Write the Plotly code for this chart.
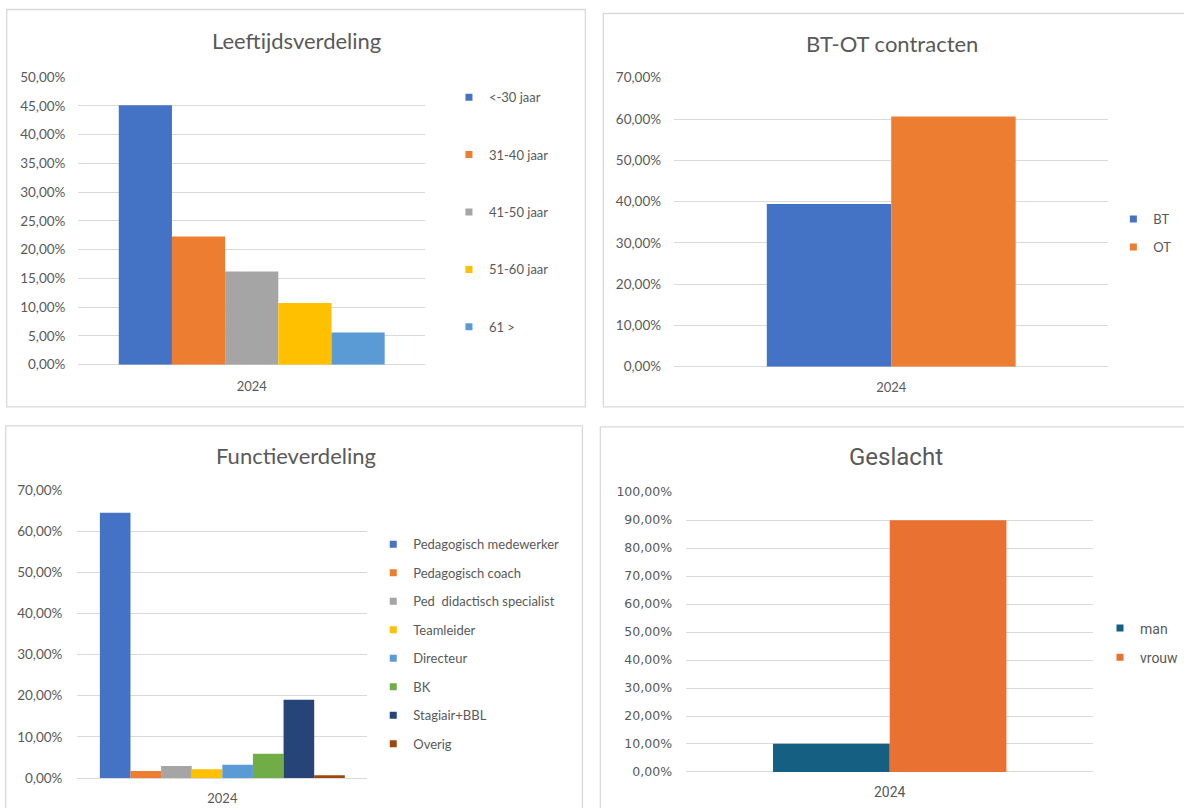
import plotly.graph_objects as go

W, H = 1184, 808

# ---------------- data ----------------
year = ["2024"]

age_labels = ["<-30 jaar", "31-40 jaar", "41-50 jaar", "51-60 jaar", "61 >"]
age_values = [45.1, 22.3, 16.2, 10.7, 5.6]
age_colors = ["#4472C4", "#ED7D31", "#A5A5A5", "#FFC000", "#5B9BD5"]

contract_labels = ["BT", "OT"]
contract_values = [39.4, 60.6]
contract_colors = ["#4472C4", "#ED7D31"]

func_labels = ["Pedagogisch medewerker", "Pedagogisch coach", "Ped  didactisch specialist",
               "Teamleider", "Directeur", "BK", "Stagiair+BBL", "Overig"]
func_values = [64.5, 1.7, 2.9, 2.1, 3.2, 5.9, 19.0, 0.7]
func_colors = ["#4472C4", "#ED7D31", "#A5A5A5", "#FFC000", "#5B9BD5", "#70AD47", "#264478", "#9E480E"]

gender_labels = ["man", "vrouw"]
gender_values = [10.1, 89.9]
gender_colors = ["#156082", "#E97132"]

titles = ["Leeftijdsverdeling", "BT-OT contracten", "Functieverdeling", "Geslacht"]

# ---------------- helpers ----------------
# page pixel -> paper fraction (with a small correction for how the page is photographed)
SX, CX = 0.981, 1.3
SY, CY = 0.977, 9.5


def px(x):
    return ((x - CX) / SX) / W


def py(y):
    return 1 - ((y - CY) / SY) / H


CAL = "Lato, 'Open Sans', sans-serif"
APT = "Roboto, 'Open Sans', sans-serif"
WIDE = "'DejaVu Sans', Verdana, sans-serif"
GREY = "#595959"
GRID = "#D9D9D9"

fig = go.Figure()


def add_chart(labels, values, colors, idx, group_frac, legend_name):
    xa = "x" if idx == 1 else f"x{idx}"
    ya = "y" if idx == 1 else f"y{idx}"
    n = len(labels)
    w = group_frac / n
    for i, (lab, val, col) in enumerate(zip(labels, values, colors)):
        fig.add_trace(go.Bar(
            x=year, y=[val], name=lab, marker=dict(color=col, line=dict(width=0)),
            width=w, offset=-group_frac / 2 + i * w,
            xaxis=xa, yaxis=ya, showlegend=False,
            hovertemplate=lab + ": %{y:.2f}%<extra></extra>",
        ))
    for i, (lab, col) in enumerate(zip(labels, colors)):
        fig.add_trace(go.Scatter(
            x=[None], y=[None], mode="markers", name=lab,
            marker=dict(symbol="square", size=7, color=col),
            xaxis=xa, yaxis=ya, legend=legend_name, legendgroup=f"{legend_name}_{i}",
            showlegend=True, hoverinfo="skip",
        ))


add_chart(age_labels, age_values, age_colors, 1, 0.767, "legend")
add_chart(contract_labels, contract_values, contract_colors, 2, 0.573, "legend2")
add_chart(func_labels, func_values, func_colors, 3, 0.845, "legend3")
add_chart(gender_labels, gender_values, gender_colors, 4, 0.573, "legend4")


def xaxis(x0, x1, y_anchor, font, size, standoff):
    return dict(domain=[px(x0), min(px(x1), 1)], anchor=y_anchor, type="category",
                range=[-0.5, 0.5], showgrid=False, zeroline=False, showline=False,
                ticks="", ticklabelstandoff=standoff, fixedrange=True,
                tickfont=dict(family=font, size=size, color=GREY))


def yaxis(y0, y1, x_anchor, rmax, dtick, font, size, standoff):
    return dict(domain=[py(y1), py(y0)], anchor=x_anchor, range=[0, rmax], dtick=dtick,
                tickformat=".2f", ticksuffix="%", showgrid=True, gridcolor=GRID, gridwidth=1,
                zeroline=True, zerolinecolor=GRID, zerolinewidth=1, showline=False,
                ticks="", ticklabelstandoff=standoff, fixedrange=True,
                tickfont=dict(family=font, size=size, color=GREY))


def legend(x, y, gap, font, size):
    return dict(x=px(x), y=py(y), xanchor="left", yanchor="top", orientation="v",
                bgcolor="rgba(0,0,0,0)", borderwidth=0, tracegroupgap=gap,
                itemclick=False, itemdoubleclick=False, itemwidth=30,
                font=dict(family=font, size=size, color=GREY))


shapes = []
for (x0, y0, x1, y1) in [(8, 11, 589, 407), (607, 15, 1230, 407), (7, 426, 586, 840), (604, 427, 1230, 840)]:
    shapes.append(dict(type="rect", xref="paper", yref="paper", x0=px(x0), x1=px(x1),
                       y0=py(y1), y1=py(y0), line=dict(color=GRID, width=1.3),
                       fillcolor="rgba(0,0,0,0)", layer="below"))

annotations = []
for t, (cx, cy), font, size in zip(titles, [(299, 42), (897, 45), (298, 456), (901, 457)],
                                   [CAL, CAL, CAL, APT], [22, 22, 22, 24]):
    annotations.append(dict(text=t, x=px(cx), y=py(cy), xref="paper", yref="paper",
                            xanchor="center", yanchor="middle", showarrow=False,
                            font=dict(family=font, size=size, color=GREY)))

fig.update_layout(
    width=W, height=H, autosize=False,
    margin=dict(l=0, r=0, t=0, b=0),
    paper_bgcolor="white", plot_bgcolor="white",
    separators=",.",
    barmode="overlay",
    showlegend=True,
    shapes=shapes, annotations=annotations,
    xaxis=xaxis(80, 428, "y", CAL, 13, 12),
    yaxis=yaxis(78.3, 365, "x", 50, 5, CAL, 13.5, 12),
    xaxis2=xaxis(678, 1114, "y2", CAL, 13, 11),
    yaxis2=yaxis(79, 367, "x2", 70, 10, CAL, 13.5, 12),
    xaxis3=xaxis(79, 370, "y3", CAL, 13, 11),
    yaxis3=yaxis(490, 777, "x3", 70, 10, CAL, 13.5, 14),
    xaxis4=xaxis(690, 1099, "y4", APT, 14, 10),
    yaxis4=yaxis(492, 771, "x4", 100, 10, WIDE, 12.5, 13),
    legend=legend(452, 83.5, 37.5, CAL, 13),
    legend2=legend(1119, 205, 8, CAL, 13),
    legend3=legend(376, 529, 8.6, CAL, 13),
    legend4=legend(1106, 612, 8, APT, 14),
)

fig.write_html(
    "out.html",
    config={"displayModeBar": False},
    post_script=(
        "document.body.style.margin='0';"
        "document.body.style.overflow='hidden';"
        "document.documentElement.style.overflow='hidden';"
    ),
)
